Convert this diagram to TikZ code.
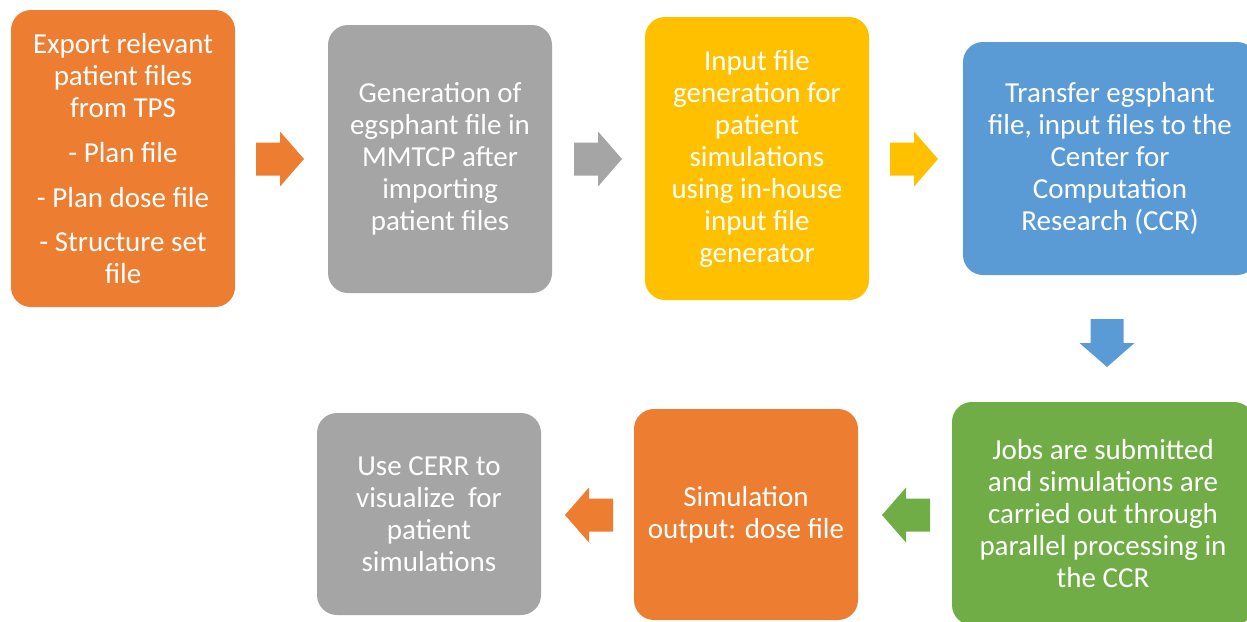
\documentclass[tikz,border=0pt]{standalone}
\usepackage{fontspec}
\setmainfont{Carlito}
\definecolor{boxorange}{HTML}{ED7D31}
\definecolor{boxgray}{HTML}{A5A5A5}
\definecolor{boxyellow}{HTML}{FFC000}
\definecolor{boxblue}{HTML}{5B9BD5}
\definecolor{boxgreen}{HTML}{70AD47}

\begin{document}
\begin{tikzpicture}[x=1pt,y=1pt]
    \tikzstyle{step box}=[rounded corners=20pt,inner sep=0pt,text=white,align=center,
        font=\fontsize{29}{32}\selectfont]
    \tikzset{block arrow/.pic={
        \fill (-24,-16.5) -- (0,-16.5) -- (0,-27.5) -- (24,0) -- (0,27.5) -- (0,16.5) -- (-24,16.5) -- cycle;}}

    \useasboundingbox (0,0) rectangle (1247,-621);
    \clip (0,0) rectangle (1247,-621);

    % Draw the top row of steps
    \node[step box,fill=boxorange,minimum width=224pt,minimum height=297pt] (export) at (123,-158.5)
        {Export relevant\\ patient files\\ from TPS\\[13pt] - Plan file\\[13pt] - Plan dose file\\[12pt] - Structure set\\ file};
    \node[step box,fill=boxgray,minimum width=224pt,minimum height=268pt] (egsphant) at (440,-159)
        {Generation of\\ egsphant file in\\ MMTCP after\\ importing\\ patient files};
    \node[step box,fill=boxyellow,minimum width=224pt,minimum height=283pt] (input) at (757,-158.5)
        {Input file\\ generation for\\ patient\\ simulations\\ using in-house\\ input file\\ generator};
    \node[step box,fill=boxblue,minimum width=294pt,minimum height=233pt] (transfer) at (1110,-158.5)
        {Transfer egsphant\\ file, input files to the\\ Center for\\ Computation\\ Research (CCR)};

    % Draw the bottom row of steps
    \node[step box,fill=boxgreen,minimum width=302pt,minimum height=223pt] (jobs) at (1103,-513.5)
        {Jobs are submitted\\ and simulations are\\ carried out through\\ parallel processing in\\ the CCR};
    \node[step box,fill=boxorange,minimum width=224pt,minimum height=211pt] (output) at (746,-514.5)
        {Simulation\\ output: dose file};
    \node[step box,fill=boxgray,minimum width=224pt,minimum height=202pt] (cerr) at (429,-514)
        {Use CERR to\\ visualize~ for\\ patient\\ simulations};

    % Block arrows between the steps
    \foreach \pos / \rot / \col in {{(280,-159)}/0/boxorange, {(598,-159)}/0/boxgray,
            {(914,-159)}/0/boxyellow, {(1107,-343)}/-90/boxblue,
            {(906,-515)}/180/boxgreen, {(589,-515)}/180/boxorange}
        \path[fill=\col] \pos pic[rotate=\rot,fill=\col] {block arrow};
\end{tikzpicture}
\end{document}
